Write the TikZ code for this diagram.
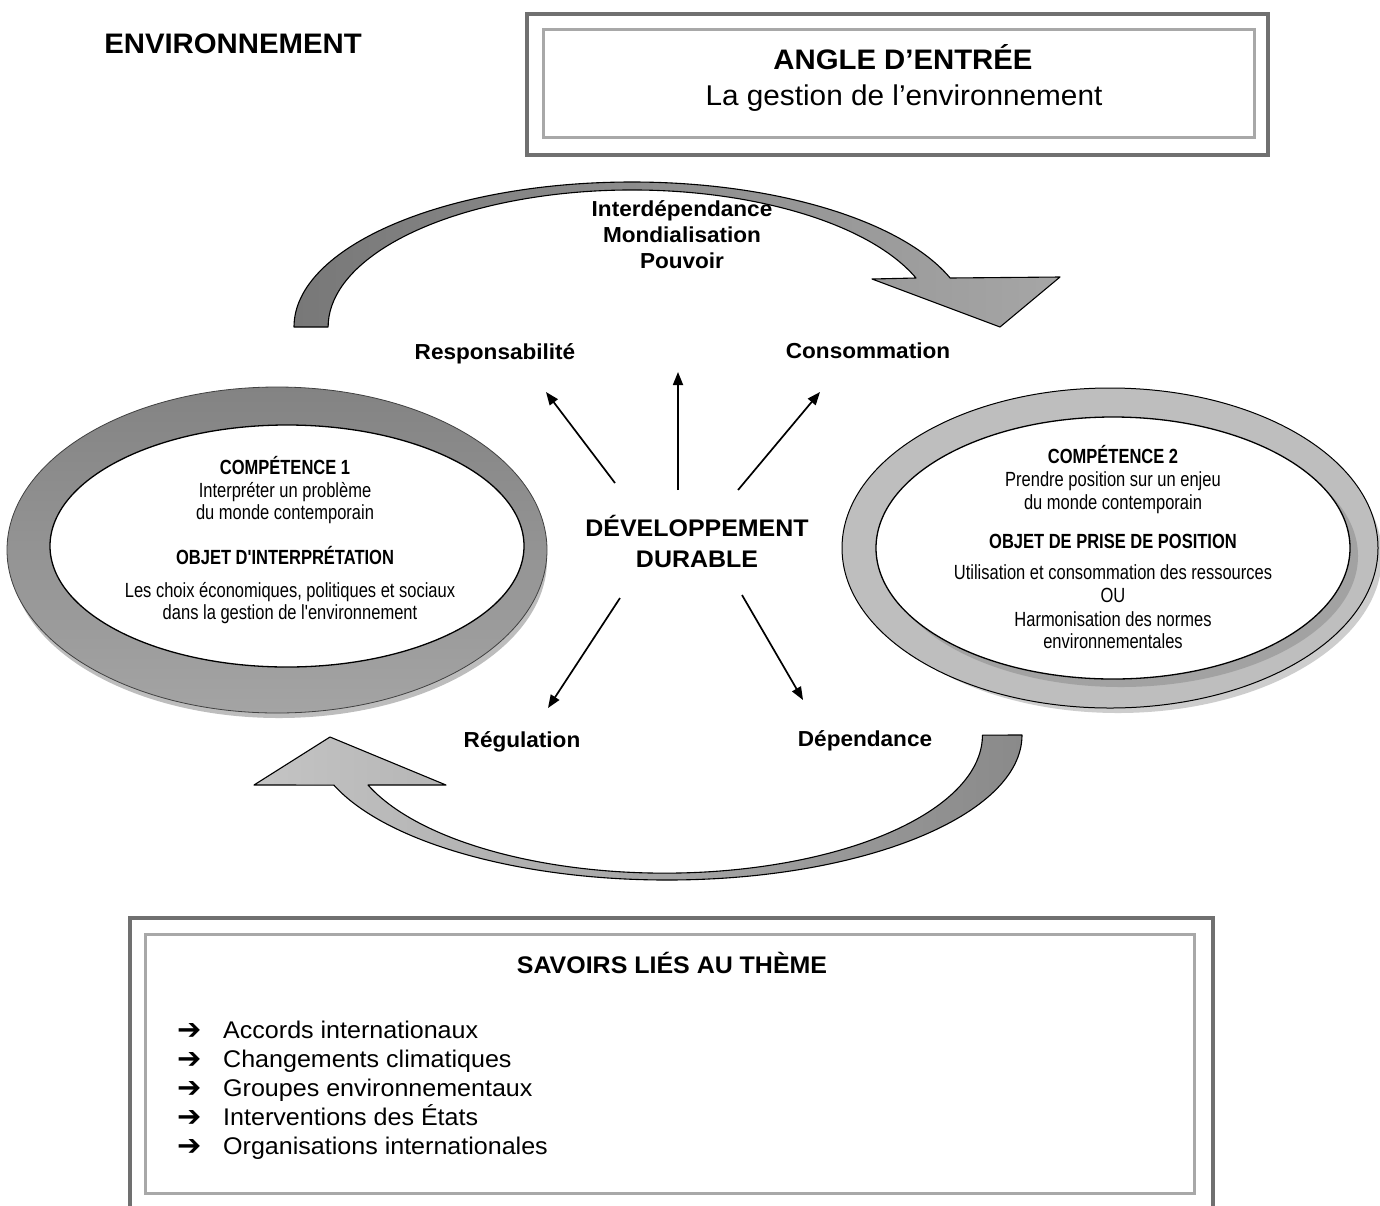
\documentclass[tikz,border=0pt]{standalone}
\usepackage{fontspec}
\setmainfont[FakeStretch=1.04]{Liberation Sans}
\newfontfamily\narrowfont[FakeStretch=0.805]{Liberation Sans}
\newfontfamily\symbolfont{DejaVu Sans}
\usetikzlibrary{arrows.meta}
\definecolor{frameA}{HTML}{707070}
\definecolor{frameB}{HTML}{A8A8A8}
\definecolor{ringLtop}{HTML}{838383}
\definecolor{ringLbot}{HTML}{A4A4A4}
\definecolor{ringLshadow}{HTML}{BDBDBD}
\definecolor{ringR}{HTML}{BEBEBE}
\definecolor{ringRshadow}{HTML}{CDCDCD}
\definecolor{ringRbevel}{HTML}{A2A2A2}
\definecolor{arrA}{HTML}{787878}
\definecolor{arrB}{HTML}{A6A6A6}
\definecolor{arrC}{HTML}{C4C4C4}
\definecolor{arrD}{HTML}{8A8A8A}
\begin{document}
\begin{tikzpicture}[x=1pt,y=-1pt,
  outerframe/.style={draw=frameA, line width=4.5pt},
  innerframe/.style={draw=frameB, line width=3pt},
  bandarrow/.style={draw=black, line width=1.1pt, line join=round},
  ringedge/.style={draw=black, line width=1.3pt},
  connector/.style={line width=1.7pt, -{Triangle[length=13pt,width=10pt]}},
  keyword/.style={font=\bfseries\fontsize{21.7}{25}\selectfont, anchor=base, inner sep=0pt},
  bigtitle/.style={font=\bfseries\fontsize{28.2}{32}\selectfont, anchor=base, inner sep=0pt},
  centretitle/.style={font=\bfseries\fontsize{24}{28}\selectfont, anchor=base, inner sep=0pt},
  ovaltitle/.style={font=\narrowfont\bfseries\fontsize{20.5}{23}\selectfont, anchor=base, inner sep=0pt},
  ovaltext/.style={font=\narrowfont\fontsize{20.5}{23}\selectfont, anchor=base, inner sep=0pt},
  listitem/.style={font=\fontsize{24.1}{28}\selectfont, anchor=base west, inner sep=0pt},
  listmark/.style={font=\symbolfont\fontsize{29}{30}\selectfont, anchor=base west, inner sep=0pt},
]
\useasboundingbox (0,0) rectangle (1380,1205);
\fill[white] (0,0) rectangle (1380,1205);

% ---------- top frame ----------
\draw[outerframe] (527,14) rectangle (1268,155);
\draw[innerframe] (543,29) rectangle (1254,137);
\node[bigtitle] (env) at (233,53) {ENVIRONNEMENT};
\node[bigtitle] (angle) at (903,69) {ANGLE D’ENTRÉE};
\node[font=\fontsize{28.6}{32}\selectfont, anchor=base, inner sep=0pt] (gestion) at (904,105) {La gestion de l’environnement};

% ---------- curved arrows ----------
\draw[bandarrow, left color=arrA, right color=arrB]
  (294,327) arc[start angle=180, end angle=340.25, x radius=338, y radius=145]
  -- (1060,277) -- (1000,327) -- (872,279) -- (916,278)
  arc[start angle=339.04, end angle=180, x radius=304, y radius=137] -- cycle;
\draw[bandarrow, left color=arrC, right color=arrD]
  (1022,735) arc[start angle=0, end angle=159.8, x radius=355, y radius=145]
  -- (254,785) -- (330,737) -- (446,785) -- (368,785)
  arc[start angle=158.8, end angle=0, x radius=318, y radius=138] -- cycle;

\node[keyword] (interdep) at (682,216) {Interdépendance};
\node[keyword] (mondial) at (682,242) {Mondialisation};
\node[keyword] (pouvoir) at (682,268) {Pouvoir};

% ---------- left oval ----------
\fill[ringLshadow] (279,560) ellipse[x radius=268, y radius=158];
\draw[draw=black!75, line width=0.8pt, top color=ringLtop, bottom color=ringLbot] (277,550) ellipse[x radius=270, y radius=163];
\filldraw[fill=white, ringedge] (287,546) ellipse[x radius=237, y radius=121];
\node[ovaltitle] (c1a) at (285,474) {COMPÉTENCE 1};
\node[ovaltext] (c1b) at (285,497) {Interpréter un problème};
\node[ovaltext] (c1c) at (285,519) {du monde contemporain};
\node[ovaltitle] (c1d) at (285,564) {OBJET D'INTERPRÉTATION};
\node[ovaltext] (c1e) at (290,597) {Les choix économiques, politiques et sociaux};
\node[ovaltext] (c1f) at (290,619) {dans la gestion de l'environnement};

% ---------- right oval ----------
\fill[ringRshadow] (1118,556) ellipse[x radius=264, y radius=157];
\filldraw[fill=ringR, draw=black, line width=1pt] (1110,548) ellipse[x radius=268, y radius=160];
\fill[ringRbevel] (1121,556) ellipse[x radius=237, y radius=131];
\filldraw[fill=white, ringedge] (1113,548) ellipse[x radius=237, y radius=131];
\node[ovaltitle] (c2a) at (1113,463) {COMPÉTENCE 2};
\node[ovaltext] (c2b) at (1113,486) {Prendre position sur un enjeu};
\node[ovaltext] (c2c) at (1113,509) {du monde contemporain};
\node[ovaltitle] (c2d) at (1113,548) {OBJET DE PRISE DE POSITION};
\node[ovaltext] (c2e) at (1113,579) {Utilisation et consommation des ressources};
\node[ovaltext] (c2f) at (1113,602) {OU};
\node[ovaltext] (c2g) at (1113,626) {Harmonisation des normes};
\node[ovaltext] (c2h) at (1113,648) {environnementales};

% ---------- centre ----------
\node[centretitle] (dd1) at (697,536) {DÉVELOPPEMENT};
\node[centretitle] (dd2) at (697,567) {DURABLE};
\node[keyword] (resp) at (495,359) {Responsabilité};
\node[keyword] (conso) at (868,358) {Consommation};
\node[keyword] (regul) at (522,747) {Régulation};
\node[keyword] (depend) at (865,746) {Dépendance};

\coordinate (us) at (678,490); \coordinate (ue) at (678,372);
\coordinate (rs) at (615,483); \coordinate (re) at (546,392);
\coordinate (cs) at (738,490); \coordinate (ce) at (820,392);
\coordinate (gs) at (620,598); \coordinate (ge) at (548,708);
\coordinate (ds) at (742,595); \coordinate (de) at (803,700);
\draw[connector] (us) -- (ue);
\draw[connector] (rs) -- (re);
\draw[connector] (cs) -- (ce);
\draw[connector] (gs) -- (ge);
\draw[connector] (ds) -- (de);

% ---------- bottom frame ----------
\draw[outerframe] (130,918) rectangle (1213,1208);
\draw[innerframe] (145,934) rectangle (1194,1193);
\node[centretitle] (savoirs) at (672,973) {SAVOIRS LIÉS AU THÈME};
\node[listmark] (m1) at (177,1039) {➔};
\node[listmark] (m2) at (177,1068) {➔};
\node[listmark] (m3) at (177,1097) {➔};
\node[listmark] (m4) at (177,1126) {➔};
\node[listmark] (m5) at (177,1155) {➔};
\node[listitem] (l1) at (223,1038) {Accords internationaux};
\node[listitem] (l2) at (223,1067) {Changements climatiques};
\node[listitem] (l3) at (223,1096) {Groupes environnementaux};
\node[listitem] (l4) at (223,1125) {Interventions des États};
\node[listitem] (l5) at (223,1154) {Organisations internationales};
\end{tikzpicture}
\end{document}
